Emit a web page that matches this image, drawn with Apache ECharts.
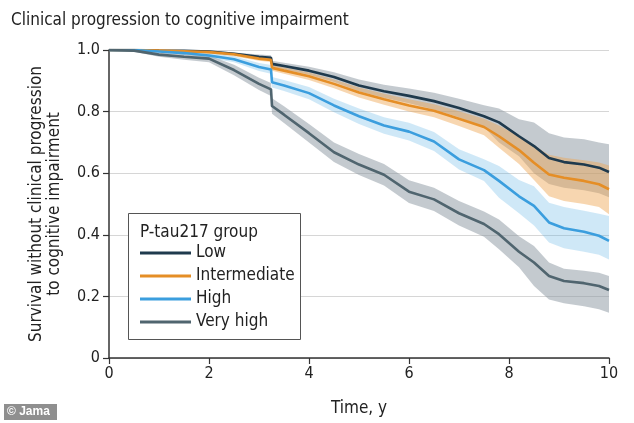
<!DOCTYPE html>
<html>
<head>
<meta charset="utf-8" />
<title>Clinical progression to cognitive impairment</title>
<script src="https://cdn.jsdelivr.net/npm/echarts@6/dist/echarts.min.js"></script>
<style>
  html, body { margin: 0; padding: 0; background: #fff; }
  #chart { width: 634px; height: 423px; }
</style>
</head>
<body>
<div id="chart"></div>
<script>
// 时间 (years)
const times = [0, 0.5, 1, 1.5, 2, 2.5, 3, 3.24, 3.26, 3.5, 4, 4.5, 5, 5.5, 6, 6.5, 7, 7.5, 7.8, 8.2, 8.5, 8.8, 9.1, 9.5, 9.8, 10];

// survival estimates per group
const lowS = [1, 1, 0.998, 0.997, 0.995, 0.988, 0.978, 0.975, 0.955, 0.948, 0.933, 0.912, 0.885, 0.866, 0.851, 0.834, 0.812, 0.785, 0.765, 0.72, 0.688, 0.649, 0.636, 0.628, 0.618, 0.604];
const intS = [1, 1, 0.998, 0.996, 0.993, 0.986, 0.972, 0.968, 0.942, 0.933, 0.915, 0.89, 0.862, 0.84, 0.82, 0.803, 0.777, 0.75, 0.72, 0.675, 0.634, 0.596, 0.585, 0.575, 0.564, 0.548];
const highS = [1, 1, 0.995, 0.99, 0.982, 0.97, 0.945, 0.937, 0.895, 0.885, 0.86, 0.82, 0.785, 0.755, 0.735, 0.703, 0.645, 0.61, 0.575, 0.525, 0.494, 0.44, 0.421, 0.41, 0.397, 0.38];
const vhighS = [1, 0.998, 0.985, 0.978, 0.972, 0.935, 0.89, 0.872, 0.818, 0.79, 0.73, 0.668, 0.628, 0.595, 0.54, 0.515, 0.47, 0.435, 0.402, 0.345, 0.31, 0.266, 0.25, 0.243, 0.234, 0.221];

// 95% CI bounds
const lowHi = [1, 1, 1, 1, 0.998, 0.992, 0.985, 0.983, 0.965, 0.959, 0.946, 0.928, 0.904, 0.887, 0.875, 0.861, 0.842, 0.821, 0.81, 0.775, 0.765, 0.73, 0.716, 0.71, 0.7, 0.694];
const lowLo = [1, 1, 0.996, 0.994, 0.991, 0.983, 0.971, 0.967, 0.945, 0.937, 0.92, 0.896, 0.866, 0.845, 0.827, 0.807, 0.782, 0.75, 0.7, 0.655, 0.6, 0.565, 0.553, 0.545, 0.535, 0.522];
const intHi = [1, 1, 1, 0.999, 0.997, 0.991, 0.979, 0.975, 0.951, 0.943, 0.927, 0.904, 0.878, 0.858, 0.84, 0.824, 0.801, 0.777, 0.755, 0.72, 0.69, 0.66, 0.65, 0.642, 0.635, 0.625];
const intLo = [1, 1, 0.995, 0.993, 0.989, 0.98, 0.965, 0.961, 0.933, 0.923, 0.903, 0.876, 0.846, 0.822, 0.8, 0.782, 0.753, 0.723, 0.683, 0.63, 0.578, 0.525, 0.51, 0.5, 0.49, 0.467];
const highHi = [1, 1, 0.998, 0.995, 0.99, 0.98, 0.958, 0.951, 0.912, 0.903, 0.88, 0.842, 0.81, 0.782, 0.764, 0.734, 0.678, 0.645, 0.623, 0.578, 0.558, 0.504, 0.49, 0.478, 0.468, 0.461];
const highLo = [1, 1, 0.992, 0.985, 0.974, 0.96, 0.932, 0.923, 0.878, 0.867, 0.84, 0.798, 0.76, 0.728, 0.706, 0.672, 0.612, 0.575, 0.52, 0.47, 0.43, 0.375, 0.356, 0.345, 0.335, 0.32];
const vhighHi = [1, 1, 0.992, 0.987, 0.982, 0.952, 0.91, 0.893, 0.843, 0.817, 0.76, 0.7, 0.662, 0.63, 0.577, 0.553, 0.51, 0.476, 0.45, 0.395, 0.364, 0.31, 0.29, 0.283, 0.277, 0.266];
const vhighLo = [1, 0.994, 0.978, 0.968, 0.96, 0.918, 0.87, 0.851, 0.793, 0.763, 0.7, 0.636, 0.594, 0.56, 0.503, 0.477, 0.43, 0.394, 0.353, 0.295, 0.234, 0.19, 0.178, 0.168, 0.158, 0.147];

const groupNames = ["Low", "Intermediate", "High", "Very high"];
const yTicks = [0, 0.2, 0.4, 0.6, 0.8, 1.0];
const xTicks = [0, 2, 4, 6, 8, 10];

const FONT = "'Liberation Sans Narrow', 'DejaVu Sans Condensed', 'Noto Sans', sans-serif";

const groups = [
  { name: "Low", s: lowS, lo: lowLo, hi: lowHi, color: "#1f3a4d", band: "rgba(138,150,160,0.5)" },
  { name: "Intermediate", s: intS, lo: intLo, hi: intHi, color: "#e58e26", band: "rgba(238,163,79,0.45)" },
  { name: "High", s: highS, lo: highLo, hi: highHi, color: "#3b9ede", band: "rgba(95,180,230,0.3)" },
  { name: "Very high", s: vhighS, lo: vhighLo, hi: vhighHi, color: "#50656f", band: "rgba(138,150,160,0.5)" },
];

function pairs(values) {
  return values.map((v, i) => [times[i], v]);
}

// 置信区间 polygon: upper bound forward, lower bound back
function bandSeries(g) {
  return {
    name: g.name + " CI",
    type: "custom",
    data: [[times[0], g.s[0]]],
    silent: true,
    z: 1,
    renderItem: (params, api) => {
      const pts = [];
      times.forEach((t, i) => pts.push(api.coord([t, g.hi[i]])));
      for (let i = times.length - 1; i >= 0; i--) {
        pts.push(api.coord([times[i], g.lo[i]]));
      }
      return {
        type: "polygon",
        shape: { points: pts },
        style: { fill: g.band, stroke: null },
      };
    },
  };
}

function initChart() {
  const myChart = echarts.init(document.querySelector("#chart"));

  const series = [];
  groups.forEach((g) => {
    series.push(bandSeries(g));
  });
  // survival lines
  groups.forEach((g) => {
    series.push({
      name: g.name,
      type: "line",
      data: pairs(g.s),
      showSymbol: false,
      color: g.color,
      lineStyle: { width: 2.6, color: g.color },
      emphasis: { disabled: true },
      z: 3,
    });
  });

  const option = {
    animation: false,
    textStyle: { fontFamily: FONT },
    title: {
      text: "Clinical progression to cognitive impairment",
      left: 6,
      top: 7,
      textStyle: { fontFamily: FONT, fontSize: 17, fontWeight: "normal", color: "#222" },
    },
    grid: { left: 109, right: 25, top: 50, bottom: 65 },
    xAxis: {
      type: "value",
      min: xTicks[0],
      max: xTicks[xTicks.length - 1],
      interval: 2,
      name: "Time, y",
      nameLocation: "middle",
      nameGap: 42,
      nameTextStyle: { fontFamily: FONT, fontSize: 17, color: "#222" },
      axisLine: { show: true, lineStyle: { color: "#333", width: 1.5 } },
      axisTick: { show: true, length: 6, lineStyle: { color: "#333", width: 1.2 } },
      axisLabel: { fontFamily: FONT, fontSize: 16, color: "#222", margin: 8 },
      splitLine: { show: false },
    },
    yAxis: {
      type: "value",
      min: yTicks[0],
      max: yTicks[yTicks.length - 1],
      interval: 0.2,
      axisLine: { show: true, lineStyle: { color: "#333", width: 1.5 } },
      axisTick: { show: true, length: 6, lineStyle: { color: "#333", width: 1.2 } },
      axisLabel: {
        fontFamily: FONT,
        fontSize: 16,
        color: "#222",
        margin: 9,
        formatter: (v) => (v === 0 ? "0" : v.toFixed(1)),
      },
      splitLine: { show: true, lineStyle: { color: "#d6d6d6", width: 1 } },
    },
    legend: {
      data: groupNames,
      orient: "vertical",
      left: 140,
      top: 244,
      icon: "rect",
      itemWidth: 51,
      itemHeight: 3,
      itemGap: 5,
      padding: 0,
      selectedMode: false,
      textStyle: { fontFamily: FONT, fontSize: 17, color: "#222", lineHeight: 18 },
      z: 10,
    },
    graphic: [
      {
        type: "rect",
        left: 128,
        top: 213,
        shape: { width: 172, height: 126 },
        style: { fill: "#fff", stroke: "#555", lineWidth: 1 },
        z: 5,
      },
      {
        type: "text",
        left: 140,
        top: 224,
        style: { text: "P-tau217 group", font: "17px " + FONT, fill: "#222" },
        z: 6,
      },
      {
        type: "text",
        x: 46,
        y: 204,
        rotation: Math.PI / 2,
        style: {
          text: "Survival without clinical progression\nto cognitive impairment",
          font: "17px " + FONT,
          fill: "#222",
          align: "center",
          verticalAlign: "middle",
          lineHeight: 18,
        },
        z: 6,
      },
      {
        type: "group",
        left: 4,
        top: 404,
        children: [
          { type: "rect", shape: { x: 0, y: 0, width: 53, height: 16 }, style: { fill: "#8f8f8f" } },
          {
            type: "text",
            x: 3,
            y: 8,
            style: { text: "© Jama", font: "bold 12px 'Liberation Sans', sans-serif", fill: "#fff", verticalAlign: "middle" },
          },
        ],
        z: 6,
      },
    ],
    series: series,
  };

  myChart.setOption(option);
  window.addEventListener("resize", () => {
    myChart.resize();
  });
}

initChart();
</script>
</body>
</html>
